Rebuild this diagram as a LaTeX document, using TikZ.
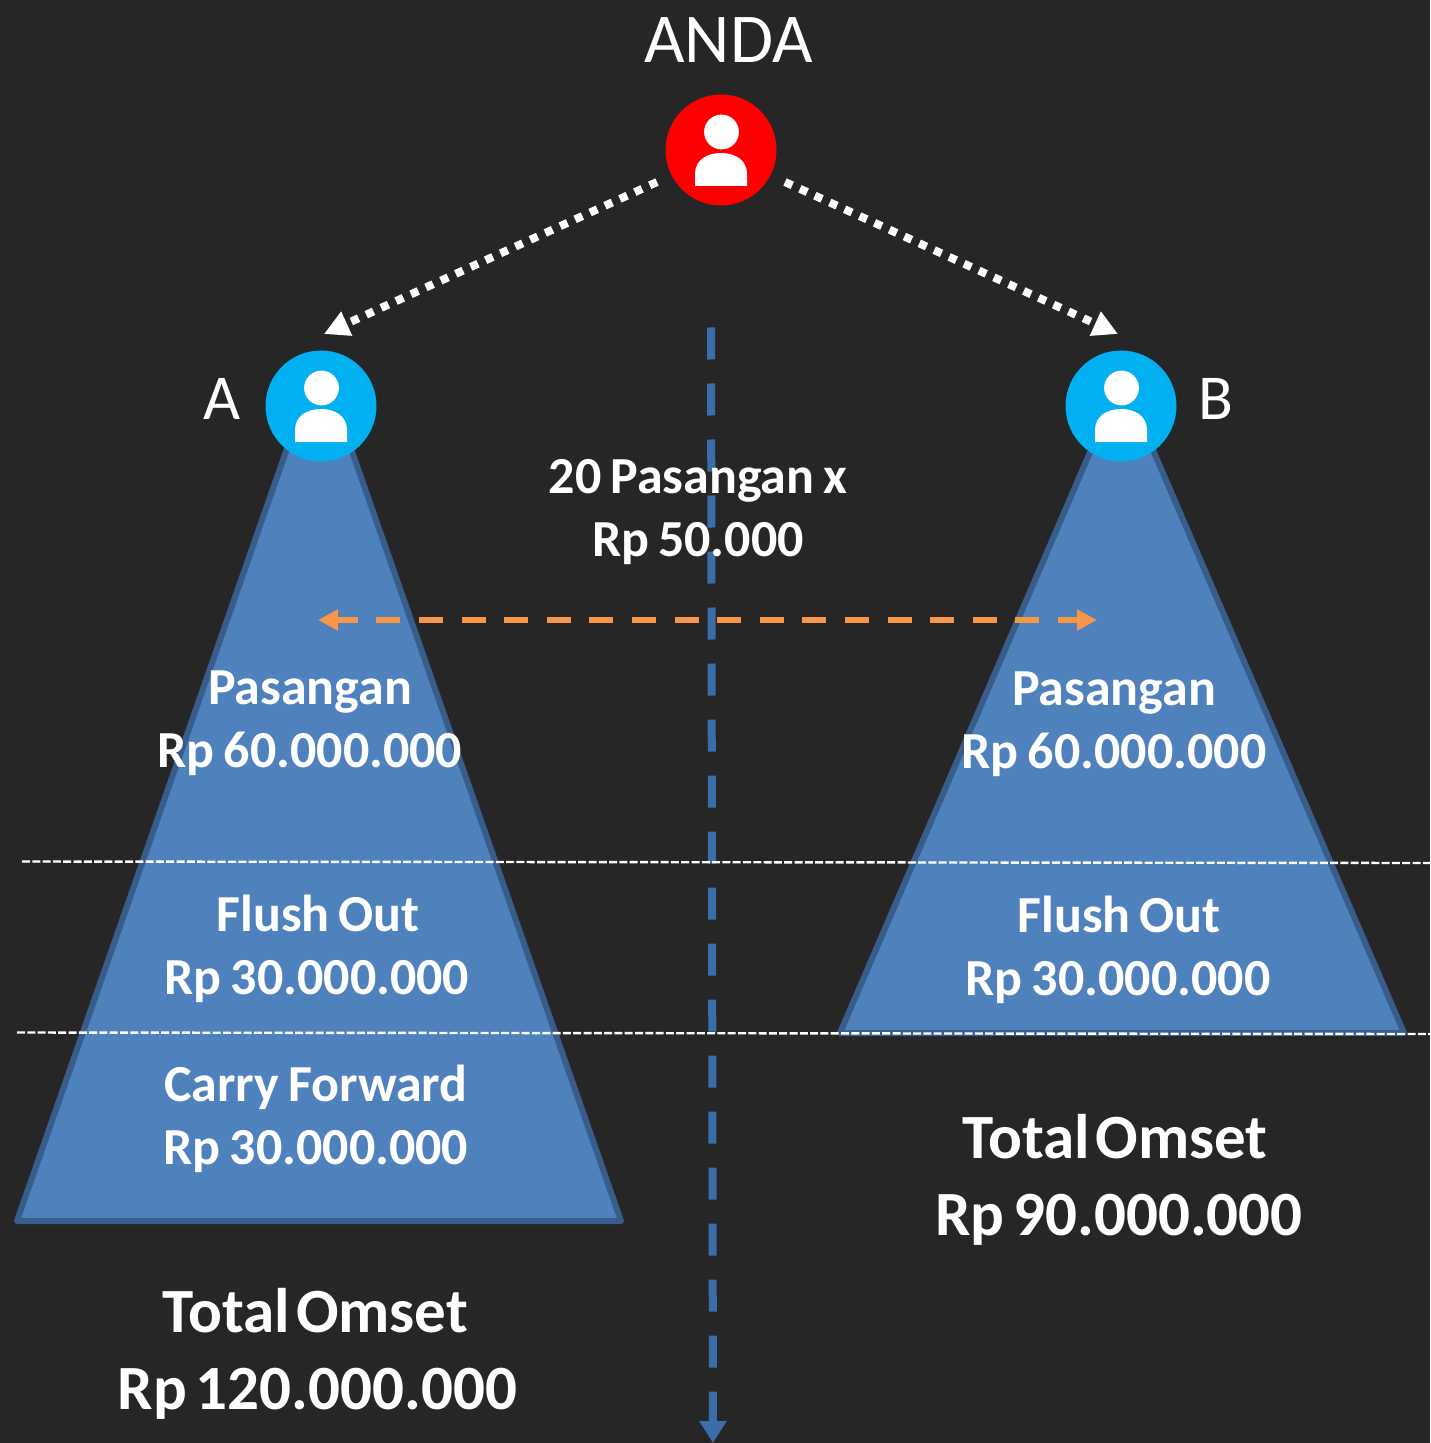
\documentclass[tikz,border=0pt]{standalone}
\usepackage{fontspec}
\setmainfont{Carlito}
\usetikzlibrary{arrows.meta}
\definecolor{bg}{HTML}{262626}
\definecolor{tri}{HTML}{4F81BD}
\definecolor{triedge}{HTML}{385D8A}
\definecolor{axis}{HTML}{3A6EA8}
\definecolor{orangeline}{HTML}{F79646}
\definecolor{cyanc}{HTML}{00B0F0}
\newcommand{\tightspace}{\spaceskip=0.09em\relax}
\newcommand{\tighterspace}{\spaceskip=0.17em\relax}
\tikzset{
  x=0.5pt,y=-0.5pt,
  triangleshape/.style={fill=tri,draw=triedge,line width=3pt,line join=round},
  personcircle/.style={circle,minimum size=55.5pt,inner sep=0pt,outer sep=0pt,fill=#1},
  lbl/.style={text=white,align=center,font=\fontsize{26}{31.6}\selectfont\bfseries\tighterspace,inner sep=0pt},
  lbig/.style={text=white,align=center,font=\fontsize{31.5}{38.5}\selectfont\bfseries\tightspace,inner sep=0pt},
  lthin/.style={text=white,font=\fontsize{#1}{#1}\selectfont,inner sep=0pt},
  dotarrow/.style={draw=white,line width=4pt,dash pattern=on 4pt off 4.2pt,-{Triangle[length=12.5pt,width=12.5pt,fill=white]}},
  sep/.style={draw=white,line width=1.2pt,dash pattern=on 4pt off 1.15pt},
  axisline/.style={draw=axis,line width=4pt,dash pattern=on 16pt off 12pt,-{Triangle[length=11pt,width=13pt]}},
  pairline/.style={draw=orangeline,line width=3pt,dash pattern=on 12pt off 9.3pt,dash phase=1.5pt,{Triangle[length=10pt,width=10pt]}-{Triangle[length=10pt,width=10pt]}},
}
\newcommand{\personicon}[2]{%
  \fill[white] (#1+0.5,#2-18) circle (8.7pt);
  \fill[white] (#1-26,#2+36) -- (#1-26,#2+24) .. controls (#1-26,#2+10) and (#1-14,#2+3) .. (#1,#2+3)
    .. controls (#1+14,#2+3) and (#1+26,#2+10) .. (#1+26,#2+24) -- (#1+26,#2+36) -- cycle;
}
\begin{document}
\begin{tikzpicture}
\useasboundingbox (0,0) rectangle (1430,1443);
\fill[bg] (0,0) rectangle (1430,1443);

% triangles
\draw[triangleshape] (319,357) -- (621,1221) -- (17,1221) -- cycle;
\draw[triangleshape] (1122,378) -- (1404,1033) -- (840,1033) -- cycle;

% axis
\coordinate (axistop) at (711,327.5);
\coordinate (axisbottom) at (713,1443);
\draw[axisline] (axistop) -- (axisbottom);

% separators
\coordinate (s1l) at (22,861.5); \coordinate (s1r) at (1430,863);
\coordinate (s2l) at (17,1032.5); \coordinate (s2r) at (1430,1034);
\draw[sep] (s1l) -- (s1r);
\draw[sep] (s2l) -- (s2r);

% orange
\coordinate (pl) at (318,620); \coordinate (pr) at (1097,620);
\draw[pairline] (pl) -- (pr);

% people
\node[personcircle=red] (anda) at (721,150) {};
\node[personcircle=cyanc] (a) at (321,406) {};
\node[personcircle=cyanc] (b) at (1121,406) {};
\personicon{721}{150}
\personicon{321}{406}
\personicon{1121}{406}

% dotted arrows
\coordinate (dl0) at (657,182); \coordinate (dl1) at (324,334);
\coordinate (dr0) at (785,182); \coordinate (dr1) at (1118,334);
\draw[dotarrow] (dl0) -- (dl1);
\draw[dotarrow] (dr0) -- (dr1);

% labels
\node[lthin=35] (tanda) at (728.5,40) {ANDA};
\node[lthin=32] (ta) at (222,399) {A};
\node[lthin=32] (tb) at (1216,399) {B};
\node[lbl] (t20) at (698,512) {20 Pasangan x\\Rp 50.000};
\node[lbl] (tp1) at (310,723) {Pasangan\\Rp 60.000.000};
\node[lbl] (tp2) at (1114,724) {Pasangan\\Rp 60.000.000};
\node[lbl] (tf1) at (317,949) {\hspace{1pt}Flush Out\\Rp 30.000.000};
\node[lbl] (tf2) at (1118,950) {\hspace{1pt}Flush Out\\Rp 30.000.000};
\node[lbl] (tc) at (316,1119) {Carry Forward\\Rp 30.000.000};
\node[lbig] (to1) at (317.5,1354) {\hspace*{-2pt}Total Omset\\{\spaceskip=0.14em\relax Rp 120.000.000}};
\node[lbig] (to2) at (1119,1180) {\hspace*{-4pt}Total Omset\\{\spaceskip=0.14em\relax Rp 90.000.000}};
\end{tikzpicture}
\end{document}
